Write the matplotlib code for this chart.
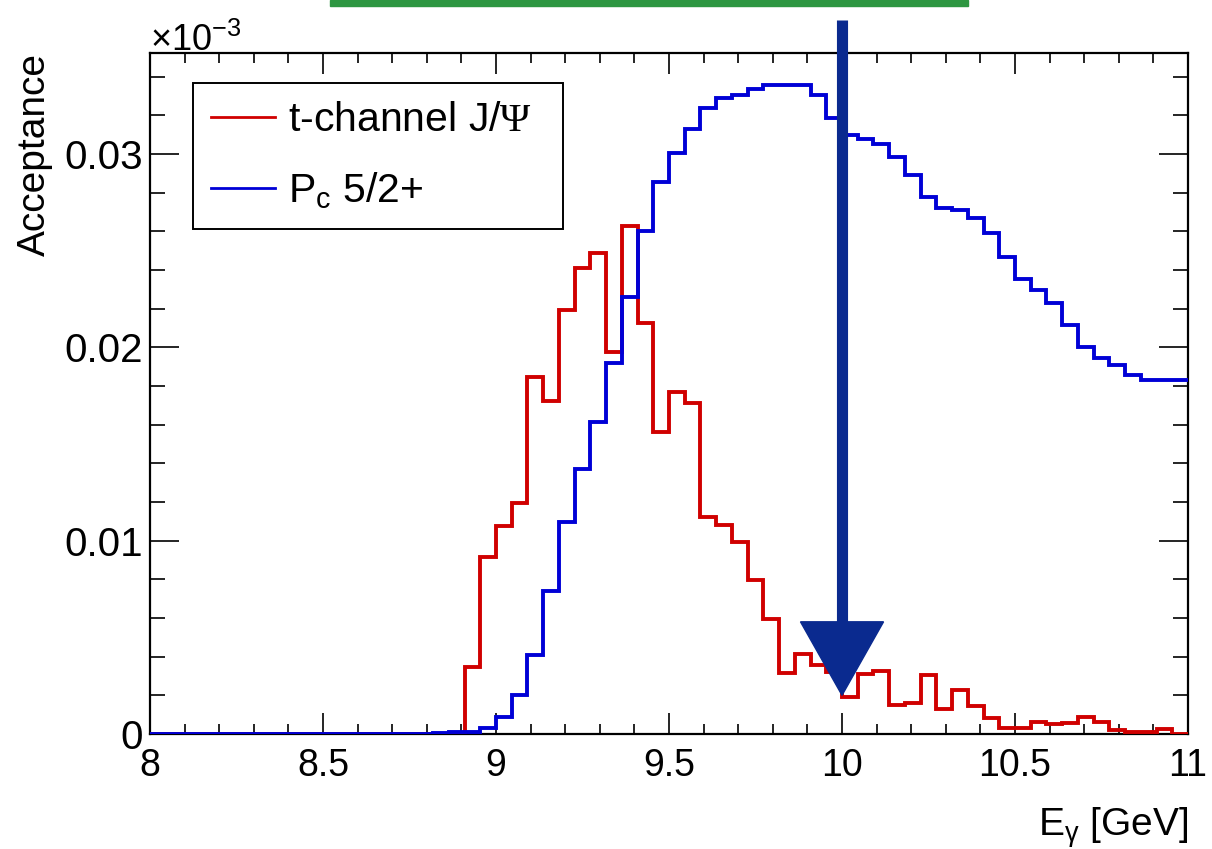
import numpy as np
import matplotlib
matplotlib.use("Agg")
import matplotlib.pyplot as plt
from matplotlib.patches import Polygon, Rectangle

plt.rcParams["font.family"] = ["Liberation Sans", "DejaVu Sans"]
plt.rcParams["mathtext.fontset"] = "custom"
plt.rcParams["mathtext.rm"] = "Liberation Sans"
plt.rcParams["mathtext.sf"] = "Liberation Sans"
plt.rcParams["mathtext.it"] = "Liberation Sans"
plt.rcParams["mathtext.tt"] = "Liberation Serif"  # serif Psi as in the ROOT symbol font

# ---- DATA (acceptance per E_gamma bin, 66 bins from 8 to 11 GeV) ----
E_MIN, E_MAX, N_BINS = 8.0, 11.0, 66

acc_tchannel = [0.0] * 20 + [
    0.00348, 0.00917, 0.01075, 0.01193, 0.01848, 0.01722, 0.02192, 0.02411,
    0.02489, 0.01973, 0.02627, 0.02127, 0.01560, 0.01770, 0.01713, 0.01124,
    0.01081, 0.00991, 0.00796, 0.00595, 0.00314, 0.00414, 0.00357, 0.00320,
    0.00190, 0.00310, 0.00326, 0.00150, 0.00159, 0.00305, 0.00129, 0.00228,
    0.00146, 0.00081, 0.00033, 0.00033, 0.00064, 0.00052, 0.00055, 0.00086,
    0.00060, 0.00021, 0.00012, 0.00012, 0.00026, 0.0,
]

acc_pc52 = [0.0] * 18 + [
    0.00003, 0.00009, 0.00010, 0.00030, 0.00090, 0.00202, 0.00408, 0.00739,
    0.01098, 0.01369, 0.01615, 0.01917, 0.02261, 0.02602, 0.02853, 0.03006,
    0.03127, 0.03238, 0.03290, 0.03307, 0.03335, 0.03356, 0.03356, 0.03356,
    0.03307, 0.03184, 0.03095, 0.03075, 0.03049, 0.02985, 0.02890, 0.02778,
    0.02721, 0.02709, 0.02666, 0.02592, 0.02468, 0.02353, 0.02296, 0.02227,
    0.02115, 0.02003, 0.01943, 0.01908, 0.01856, 0.01830, 0.01830, 0.01830,
]

labels = ["t-channel J/$\\mathtt{\\Psi}$", "P$_\\mathsf{c}$ 5/2+"]
colors = ["#d00000", "#0000d6"]

xticks = [8, 8.5, 9, 9.5, 10, 10.5, 11]
xtick_labels = ["8", "8.5", "9", "9.5", "10", "10.5", "11"]
yticks = [0.0, 0.01, 0.02, 0.03]
ytick_labels = ["0", "0.01", "0.02", "0.03"]

# hand drawn arrow pointing at E = 10 GeV
ARROW_X = 10.0
ARROW_TOP = 0.0369
ARROW_HEAD_Y = 0.0058
ARROW_TIP_Y = 0.0020
ARROW_HALF_W = 0.12

edges = np.linspace(E_MIN, E_MAX, N_BINS + 1)

fig = plt.figure(figsize=(12.12, 8.49), dpi=100)
ax = fig.add_axes([0.1238, 0.1355, 0.8564, 0.8017])

for vals, lab, col in zip([acc_tchannel, acc_pc52], labels, colors):
    ax.stairs(vals, edges, baseline=None, color=col, lw=2.8, label=lab, zorder=3)

ax.set_xlim(E_MIN, E_MAX)
ax.set_ylim(0, 0.0352)

ax.set_xticks(xticks)
ax.set_xticklabels(xtick_labels)
ax.set_xticks(np.arange(8.0, 11.01, 0.1), minor=True)
ax.set_yticks(yticks)
ax.set_yticklabels(ytick_labels)
ax.set_yticks(np.arange(0.0, 0.0352, 0.002), minor=True)

ax.tick_params(which="both", direction="in", top=True, right=True, width=1.2)
ax.tick_params(axis="x", which="major", length=15, labelsize=27, pad=10)
ax.tick_params(axis="x", which="minor", length=7)
ax.tick_params(axis="y", which="major", length=21, labelsize=29, pad=5)
ax.tick_params(axis="y", which="minor", length=10.5)
for sp in ax.spines.values():
    sp.set_linewidth(1.6)

ax.set_ylabel("Acceptance", fontsize=28, loc="top")
ax.yaxis.set_label_coords(-0.094, 1.0)
ax.set_xlabel("E$_{\\gamma}$ [GeV]", fontsize=28, loc="right")
ax.xaxis.set_label_coords(1.0, -0.105)

ax.text(0.0, 1.004, "$\\times$10$^{-3}$", transform=ax.transAxes,
        ha="left", va="baseline", fontsize=26)

leg = ax.legend(loc="upper left", bbox_to_anchor=(0.0414, 0.749, 0.3565, 0.2075),
                mode="expand", fontsize=29.5, frameon=True, fancybox=False,
                edgecolor="black", framealpha=1, borderpad=0.45, labelspacing=0.75,
                handlelength=1.56, handletextpad=0.32, borderaxespad=0)
leg.get_frame().set_linewidth(1.4)
for ln in leg.get_lines():
    ln.set_linewidth(2.0)

# arrow drawn on top of the plot
arrow_col = "#0a2a8f"
ax.plot([ARROW_X, ARROW_X], [ARROW_HEAD_Y, ARROW_TOP], color=arrow_col, lw=8,
        solid_capstyle="butt", clip_on=False, zorder=5)
ax.add_patch(Polygon([[ARROW_X - ARROW_HALF_W, ARROW_HEAD_Y],
                      [ARROW_X + ARROW_HALF_W, ARROW_HEAD_Y],
                      [ARROW_X, ARROW_TIP_Y]],
                     closed=True, color=arrow_col, clip_on=False, zorder=5))

# green bar cut at the top of the slide
fig.patches.append(Rectangle((330 / 1212, 1 - 6 / 849), (968 - 330) / 1212, 6 / 849,
                             transform=fig.transFigure, color="#2d9641"))

fig.savefig("out.png", dpi=100)
